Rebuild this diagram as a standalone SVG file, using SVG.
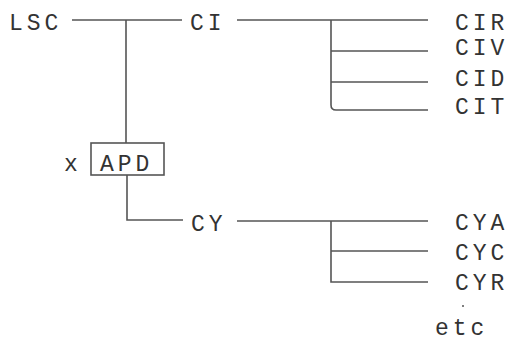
<svg xmlns="http://www.w3.org/2000/svg" width="515" height="343" viewBox="0 0 515 343">
<style>
text{font-family:"Liberation Mono","Courier New",monospace;font-size:23px;fill:#333;letter-spacing:4px}
.c{fill:none;stroke:#555;stroke-width:1.6}
</style>
<rect width="515" height="343" fill="#fff"/>
<g id="connectors">
<path class="c" d="M72 20H182M126 20V143M127 175V220H183"/>
<path class="c" d="M237 20H428M331 20V105Q331 110 336 110H428M331 51H428M331 82H428"/>
<path class="c" d="M237 221H428M331 221V282H428M331 251H428"/>
</g>
<g id="LSC"><text x="9" y="30">LSC</text></g>
<g id="CI"><text x="190" y="30">CI</text></g>
<g id="CIR"><text x="455" y="30">CIR</text></g>
<g id="CIV"><text x="455" y="55">CIV</text></g>
<g id="CID"><text x="455" y="86">CID</text></g>
<g id="CIT"><text x="455" y="114">CIT</text></g>
<g id="APD"><text x="64" y="171">x</text><rect x="91" y="143" width="73" height="32" fill="none" stroke="#555" stroke-width="1.6"/><text x="100" y="171">APD</text></g>
<g id="CY"><text x="191" y="231">CY</text></g>
<g id="CYA"><text x="455" y="230">CYA</text></g>
<g id="CYC"><text x="455" y="260">CYC</text></g>
<g id="CYR"><text x="455" y="290">CYR</text></g>
<g id="etc"><circle cx="463" cy="306" r="1" fill="#555"/><text x="435" y="335">etc</text></g>
</svg>
